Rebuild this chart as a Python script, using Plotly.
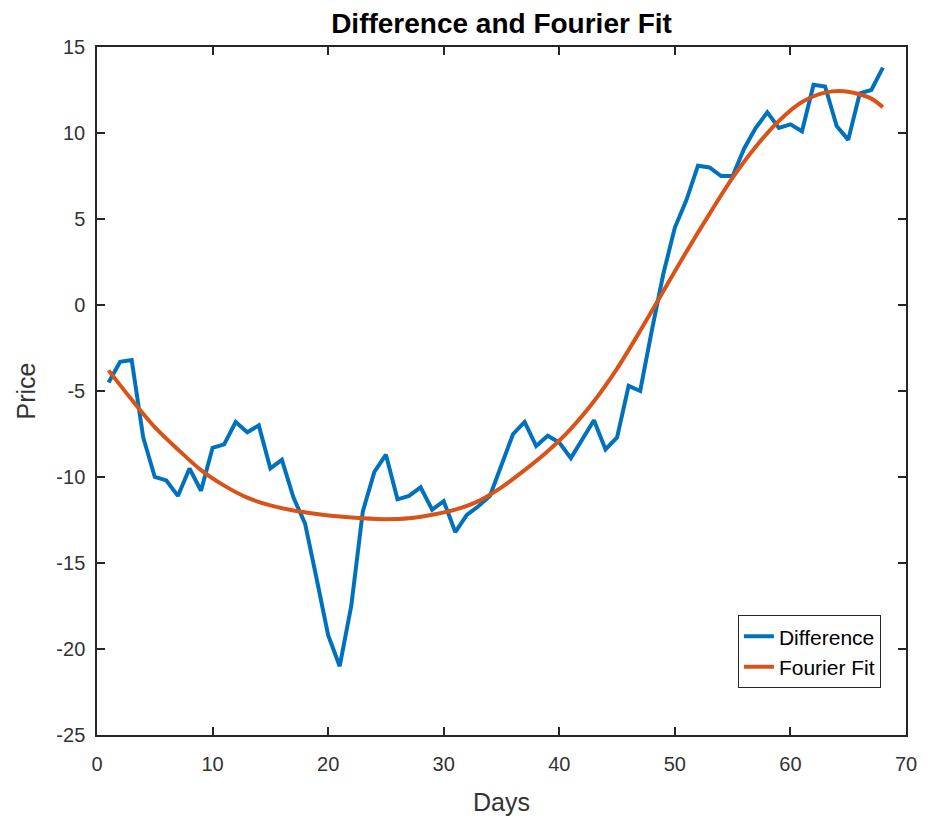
import plotly.graph_objects as go

days = list(range(1, 69))
difference = [
    -4.5, -3.3, -3.2, -7.7, -10.0, -10.2, -11.1, -9.5, -10.8, -8.3,
    -8.1, -6.8, -7.4, -7.0, -9.5, -9.0, -11.2, -12.7, -15.9, -19.2,
    -21.0, -17.5, -12.0, -9.7, -8.7, -11.3, -11.1, -10.6, -11.9, -11.4,
    -13.2, -12.2, -11.7, -11.1, -9.3, -7.5, -6.8, -8.2, -7.6, -8.0,
    -8.9, -7.8, -6.7, -8.4, -7.7, -4.7, -5.0, -1.5, 1.8, 4.5,
    6.1, 8.1, 8.0, 7.5, 7.5, 9.1, 10.3, 11.2, 10.3, 10.5,
    10.1, 12.8, 12.7, 10.4, 9.6, 12.3, 12.5, 13.8,
]

fit_days = [1, 3, 5, 7, 9, 11, 13, 15, 17, 19, 21, 23, 25, 27, 29, 31, 33, 35,
            37, 39, 41, 43, 45, 47, 49, 51, 53, 55, 57, 59, 61, 63, 65, 67, 68]
fourier_fit = [-3.8, -5.5, -7.1, -8.4, -9.6, -10.5, -11.2, -11.65, -11.95, -12.15,
               -12.3, -12.4, -12.45, -12.4, -12.2, -11.9, -11.4, -10.6,
               -9.6, -8.5, -7.2, -5.6, -3.7, -1.5, 0.8, 3.1, 5.3, 7.4, 9.2, 10.7,
               11.8, 12.35, 12.4, 12.0, 11.5]

x_ticks = [0, 10, 20, 30, 40, 50, 60, 70]
y_ticks = [-25, -20, -15, -10, -5, 0, 5, 10, 15]

BLUE = "#0072BD"
ORANGE = "#D95319"
AX = "#262626"
FONT = "Liberation Sans, Arial, sans-serif"

fig = go.Figure()
fig.add_trace(go.Scatter(x=days, y=difference, mode="lines", name="Difference",
                         line=dict(color=BLUE, width=4)))
fig.add_trace(go.Scatter(x=fit_days, y=fourier_fit, mode="lines", name="Fourier Fit",
                         line=dict(color=ORANGE, width=4, shape="spline", smoothing=0.8)))

axis_common = dict(
    showgrid=False, zeroline=False, showline=True, linecolor=AX, linewidth=1.5,
    mirror="ticks", ticks="inside", ticklen=8, tickwidth=1.5, tickcolor=AX,
    tickfont=dict(family=FONT, size=20, color="#333333"),
)

fig.update_layout(
    width=929, height=825,
    margin=dict(l=97, r=19, t=47, b=90),
    paper_bgcolor="white", plot_bgcolor="white",
    title=dict(text="<b>Difference and Fourier Fit</b>", x=0.5,
               xref="paper", xanchor="center", y=1 - 23 / 825, yanchor="middle",
               font=dict(family=FONT, size=28, color="#000000")),
    xaxis=dict(range=[0, 70], tickvals=x_ticks, ticktext=[str(v) for v in x_ticks],
               ticklabelstandoff=10,
               title=dict(text="Days", font=dict(family=FONT, size=25, color="#333333"), standoff=20),
               **axis_common),
    yaxis=dict(range=[-25, 15], tickvals=y_ticks, ticktext=[str(v) for v in y_ticks],
               ticklabelstandoff=6,
               title=dict(text="Price", font=dict(family=FONT, size=25, color="#333333"), standoff=14),
               **axis_common),
    legend=dict(x=0.969, y=0.068, xanchor="right", yanchor="bottom",
                bgcolor="white", bordercolor=AX, borderwidth=1,
                font=dict(family=FONT, size=21, color="#000000"),
                tracegroupgap=0),
    showlegend=True,
)

fig.write_html("out.html")
